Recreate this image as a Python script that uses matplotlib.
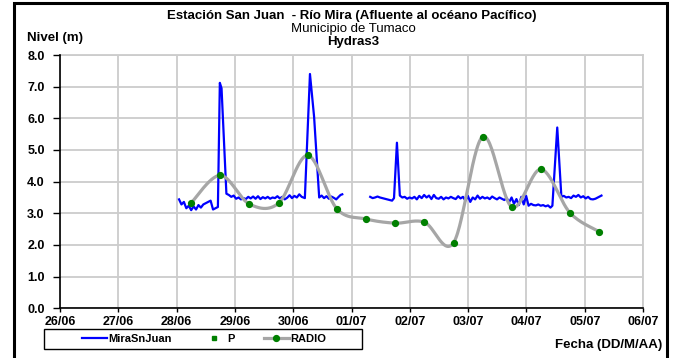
import matplotlib
matplotlib.use("Agg")
import matplotlib.pyplot as plt
from matplotlib.patches import Rectangle
import numpy as np

plt.rcParams['font.family'] = ['Liberation Sans', 'DejaVu Sans']

# dias del 26/06 al 06/07
fechas = ['26/06', '27/06', '28/06', '29/06', '30/06', '01/07',
          '02/07', '03/07', '04/07', '05/07', '06/07']

# MiraSnJuan, horas desde 26/06 00:00 (dos tramos)
nivel1_h = [49, 50, 51, 52, 53, 54, 55, 56, 57, 58, 59, 60, 61, 62, 63, 64, 65,
            65.8, 66.5, 68.5, 69.5, 70.5, 71.5, 72.5, 73.5, 74.5, 75.5, 76.5,
            77.5, 78.5, 79.5, 80.5, 81.5, 82.5, 83.5, 84.5, 85.5, 86.5, 87.5,
            88.5, 89.5, 90.5, 91.5, 92.5, 93.5, 94.5, 95.5, 96.5, 97.5, 98.5,
            99.5, 100.8, 102.9, 104.6, 106.7, 107.7, 108.7, 109.7, 110.7,
            111.7, 112.7, 113.7, 114.7, 115.5, 116.2]
nivel1_v = [3.44, 3.28, 3.36, 3.16, 3.24, 3.10, 3.22, 3.12, 3.26, 3.18, 3.28,
            3.32, 3.36, 3.40, 3.12, 3.16, 3.20,
            7.12, 6.95, 3.62, 3.58, 3.52, 3.56, 3.46, 3.50, 3.44, 3.48, 3.45,
            3.52, 3.47, 3.53, 3.46, 3.54, 3.45, 3.51, 3.47, 3.52, 3.46, 3.50,
            3.48, 3.54, 3.47, 3.52, 3.44, 3.49, 3.57, 3.48, 3.55, 3.50, 3.60,
            3.52, 3.48, 7.40, 6.05, 3.50, 3.56, 3.48, 3.54, 3.46,
            3.53, 3.49, 3.44, 3.52, 3.58, 3.60]

nivel2_h = [127.7, 128.7, 129.7, 130.7, 131.7, 132.7, 133.7, 134.7, 135.7,
            136.7, 137.5, 138.7, 139.9, 140.9, 141.9, 142.9, 143.9, 144.9,
            145.9, 146.9, 147.9, 148.9, 149.9, 150.9, 151.9, 152.9, 153.9,
            154.9, 155.9, 156.9, 157.9, 158.9, 159.9, 160.9, 161.9, 162.9,
            163.9, 164.9, 165.9, 166.9, 167.9, 168.9, 169.9, 170.9, 171.9,
            172.9, 173.9, 174.9, 175.9, 176.9, 177.9, 178.9, 179.9, 180.9,
            181.9, 182.9, 183.9, 184.9, 185.9, 186.9, 187.9, 188.9, 189.9,
            190.9, 191.9, 192.9, 193.9, 194.9, 195.9, 196.9, 197.9, 198.9,
            199.9, 200.9, 201.9, 202.7, 204.7, 206.4, 207.4, 208.4, 209.4,
            210.4, 211.4, 212.4, 213.4, 214.4, 215.4, 216.4, 217.4, 218.4,
            219.4, 220.4, 221.4, 222.9]
nivel2_v = [3.52, 3.48, 3.50, 3.53, 3.50, 3.48, 3.46, 3.44, 3.42,
            3.40, 3.48, 5.23, 3.56, 3.50, 3.52, 3.46, 3.50, 3.47,
            3.52, 3.44, 3.55, 3.48, 3.58, 3.50, 3.56, 3.45, 3.58,
            3.48, 3.46, 3.52, 3.44, 3.50, 3.47, 3.52, 3.48, 3.45,
            3.54, 3.47, 3.52, 3.40, 3.55, 3.36, 3.50, 3.44, 3.56,
            3.46, 3.52, 3.47, 3.50, 3.45, 3.53, 3.48, 3.44, 3.50,
            3.46, 3.42, 3.48, 3.35, 3.50, 3.30, 3.45, 3.26, 3.52,
            3.28, 3.55, 3.24, 3.30, 3.26, 3.25, 3.28, 3.24, 3.26,
            3.22, 3.25, 3.18, 3.24, 5.71, 3.52, 3.55, 3.50, 3.52,
            3.48, 3.56, 3.52, 3.58, 3.50, 3.54, 3.47, 3.52, 3.45,
            3.44, 3.46, 3.50, 3.56]

# RADIO, cada 12 horas
radio_h = [54, 66, 78, 90, 102, 114, 126, 138, 150, 162, 174, 186, 198, 210, 222]
radio_v = [3.33, 4.20, 3.29, 3.32, 4.83, 3.14, 2.82, 2.69, 2.72, 2.07, 5.42,
           3.20, 4.39, 3.01, 2.42]

# P (sin datos)
p_h = []
p_v = []


def suavizar(x, y, n=30):
    # curva suavizada tipo Excel (Catmull-Rom)
    x = np.asarray(x, float)
    y = np.asarray(y, float)
    px = np.concatenate([[x[0]], x, [x[-1]]])
    py = np.concatenate([[y[0]], y, [y[-1]]])
    xs, ys = [], []
    t = np.linspace(0, 1, n)
    for i in range(1, len(px) - 2):
        for p, out in ((px, xs), (py, ys)):
            p0, p1, p2, p3 = p[i - 1], p[i], p[i + 1], p[i + 2]
            c1 = p1 + (p2 - p0) / 6
            c2 = p2 - (p3 - p1) / 6
            out.extend((1 - t) ** 3 * p1 + 3 * (1 - t) ** 2 * t * c1
                       + 3 * (1 - t) * t ** 2 * c2 + t ** 3 * p2)
    return np.array(xs), np.array(ys)


fig = plt.figure(figsize=(6.73, 3.58), dpi=100)
ax = fig.add_axes([60 / 673, 1 - 308.3 / 358, 583 / 673, 253.3 / 358])

d1 = np.array(nivel1_h) / 24
d2 = np.array(nivel2_h) / 24
l1, = ax.plot(d1, nivel1_v, color='#0000ff', lw=1.6, zorder=3)
ax.plot(d2, nivel2_v, color='#0000ff', lw=1.6, zorder=3)

lp, = ax.plot(np.array(p_h) / 24, p_v, 's', color='#008000', ms=2.5,
              linestyle='none')

sx, sy = suavizar(np.array(radio_h) / 24, radio_v)
ax.plot(sx, sy, color='#a6a6a6', lw=2.3, zorder=4)
ax.plot(np.array(radio_h) / 24, radio_v, 'o', color='#008000', ms=4.2,
        mec='#008000', zorder=5)
lr, = ax.plot([], [], color='#a6a6a6', lw=2.3, marker='o', ms=4.2,
              mfc='#008000', mec='#008000')

ax.set_xlim(0, 10)
ax.set_ylim(0, 8)
ax.set_xticks(range(len(fechas)))
ax.set_xticklabels(fechas, fontweight='bold', fontsize=9)
ax.set_yticks(np.arange(0, 8.5, 1))
ax.set_yticklabels([f'{v:.1f}' for v in np.arange(0, 8.5, 1)],
                   fontweight='bold', fontsize=9)
ax.tick_params(axis='y', direction='out', length=5, width=1,
               color='black', pad=6)
ax.tick_params(axis='x', direction='out', length=3, width=1,
               color='black', pad=2.5)
ax.grid(True, color='#cccccc', lw=1.3)
ax.set_axisbelow(True)
for s in ('top', 'right'):
    ax.spines[s].set_visible(False)
for s in ('left', 'bottom'):
    ax.spines[s].set_linewidth(1.2)
# lineas de rejilla del borde superior y derecho
ax.axhline(8, color='#cccccc', lw=1.3, zorder=0, clip_on=False)
ax.axvline(10, color='#cccccc', lw=1.3, zorder=0, clip_on=False)

fig.text(352 / 673, 1 - 16 / 358,
         'Estación San Juan  - Río Mira (Afluente al océano Pacífico)',
         ha='center', va='center', fontweight='bold', fontsize=9.5)
fig.text(353 / 673, 1 - 29 / 358, 'Municipio de Tumaco',
         ha='center', va='center', fontsize=9.5)
fig.text(353 / 673, 1 - 42 / 358, 'Hydras3',
         ha='center', va='center', fontweight='bold', fontsize=9.5)
fig.text(27 / 673, 1 - 38 / 358, 'Nivel (m)', ha='left', va='center',
         fontweight='bold', fontsize=9.5)
fig.text(662 / 673, 1 - 345 / 358, 'Fecha (DD/M/AA)', ha='right',
         va='center', fontweight='bold', fontsize=9.5)

leg = fig.legend([l1, lp, lr], ['MiraSnJuan', 'P', 'RADIO'],
                 loc='center', ncol=3,
                 bbox_to_anchor=(204 / 673, 1 - 339 / 358),
                 frameon=False, prop={'weight': 'bold', 'size': 8},
                 handlelength=2.3, handletextpad=0.1, columnspacing=2.6,
                 borderpad=0, borderaxespad=0)
fig.add_artist(Rectangle((44 / 673, 1 - 349 / 358), 318 / 673, 20 / 358,
                         transform=fig.transFigure, fill=False,
                         edgecolor='black', lw=1.0))

fig.add_artist(Rectangle((14 / 673, -0.1), 653 / 673, 1.1 - 3 / 358,
                         transform=fig.transFigure, fill=False,
                         edgecolor='black', lw=2.2))

fig.savefig('out.png', dpi=100)
